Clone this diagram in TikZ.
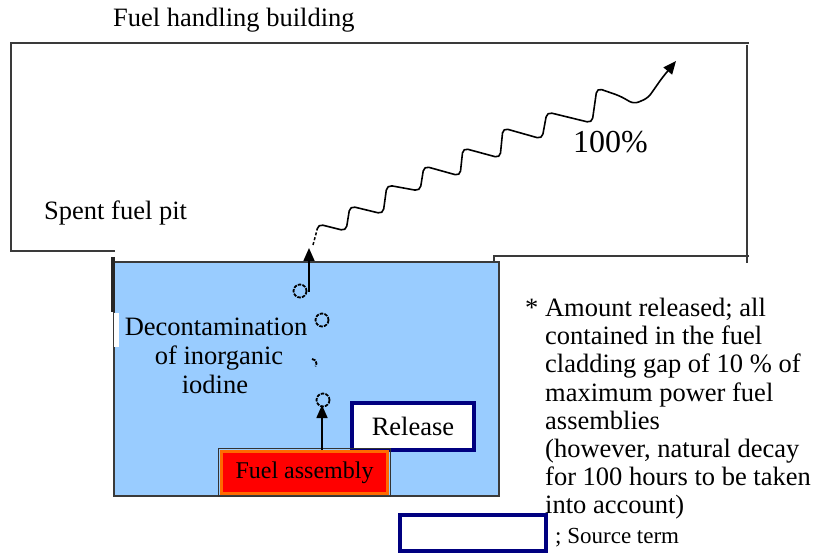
\documentclass[tikz,border=0pt]{standalone}
\usepackage{fontspec}
\setmainfont{Liberation Serif}
\usetikzlibrary{arrows.meta}
\definecolor{water}{HTML}{99CCFF}
\definecolor{wallgrey}{HTML}{3A3A3A}
\definecolor{navyline}{HTML}{000080}
\definecolor{fuelred}{HTML}{FF0000}
\definecolor{fuelrim}{HTML}{FF6A00}
\tikzset{
  wall/.style={draw=wallgrey, line width=2pt},
  txt/.style={inner sep=0pt, font=\rmfamily\fontsize{26.5}{28}\selectfont},
  navybox/.style={draw=navyline, line width=3.5pt, fill=white, inner sep=0pt},
  bubble/.style={draw=black, line width=1.8pt, dash pattern=on 3.5pt off 1.2pt},
  rise/.style={line width=1.6pt, -{Triangle[width=11pt,length=13pt]}},
  wave/.style={black, line width=1.6pt, rounded corners=5pt},
}
\begin{document}
\begin{tikzpicture}[x=1pt, y=-1pt]
\useasboundingbox (0,0) rectangle (817,553);

% building outline
\draw[wall] (10,43) -- (749,43);
\draw[wall] (11,43) -- (11,251) -- (115,251);
\draw[wall] (747,45) -- (747,263);
\draw[wall] (749,256) -- (494,256) -- (494,302);

% pool of water
\draw[draw=wallgrey, line width=2pt, fill=water] (114,262) rectangle (499,496);
\draw[black!85, line width=3.5pt] (113,257) -- (113,312);
\fill[white] (114,313) rectangle (119,347);

% labels
\node[txt, anchor=base west] (title) at (113,27) {Fuel handling building};
\node[txt, anchor=base west] (pit) at (44,220) {Spent fuel pit};
\node[inner sep=0pt, font=\rmfamily\fontsize{32}{34}\selectfont, anchor=base west] (pct) at (573,153) {100\%};
\node[txt, anchor=base] (dec1) at (216,336) {Decontamination};
\node[txt, anchor=base] (dec2) at (219,365) {of inorganic};
\node[txt, anchor=base] (dec3) at (215,394) {iodine};

% boxes
\node[navybox, minimum width=122pt, minimum height=47pt, font=\rmfamily\fontsize{26.5}{28}\selectfont] (release) at (413,426.5) {Release};
\node[draw=fuelrim, line width=3pt, fill=fuelred, minimum width=166pt, minimum height=42pt, inner sep=0pt, font=\rmfamily\fontsize{24}{26}\selectfont] (fuel) at (304.5,472.5) {Fuel assembly};
\draw[black!80, line width=1pt] (fuel.north west) ++(-1.5,-1.5) rectangle ([shift={(1.5,1.5)}]fuel.south east);
\node[navybox, minimum width=146pt, minimum height=36pt] (src) at (473,533) {};
\node[inner sep=0pt, anchor=base west, font=\rmfamily\fontsize{23}{25}\selectfont] (srclbl) at (555,543) {; Source term};

% bubbles rising from the fuel
\draw[bubble] (300,291) circle (6.5);
\draw[bubble] (322,320) circle (6.5);
\draw[bubble] (312,359) arc (-90:40:4.5);
\draw[bubble] (323,400) circle (6.5);
\coordinate (b4) at (322,405);
\coordinate (s0) at (309,292);
\coordinate (surf) at (309,248);
\draw[rise] (fuel.north -| b4) -- (b4);
\draw[rise] (s0) -- (surf);

% release to the building atmosphere
\coordinate (w0) at (313,245);
\coordinate (w1) at (317,230);
\coordinate (wend) at (676,61);
\draw[black, line width=1.5pt, dash pattern=on 3pt off 2pt] (w0) -- (w1);
\draw[wave, -{Triangle[width=11pt,length=13pt]}]
  (w1) -- (318,224) -- (346,231) -- (350,206) -- (383,214) -- (387,185)
  -- (420,191) -- (424,166) -- (460,176) -- (463,148) -- (500,158)
  -- (503,128) -- (542,139) -- (547,112) -- (592,123) -- (597,88)
  -- (620,96) -- (634,104) -- (648,98) -- (662,78) -- (wend);

% footnote
\node[txt, anchor=base west] (n0) at (525,316.5) {* Amount released; all};
\foreach \t [count=\i] in {contained in the fuel, cladding gap of 10 \% of, maximum power fuel, assemblies, {(however, natural decay}, for 100 hours to be taken, into account)}
  \node[txt, anchor=base west] (n\i) at (545,316.5+28.2*\i) {\t};
\end{tikzpicture}
\end{document}
